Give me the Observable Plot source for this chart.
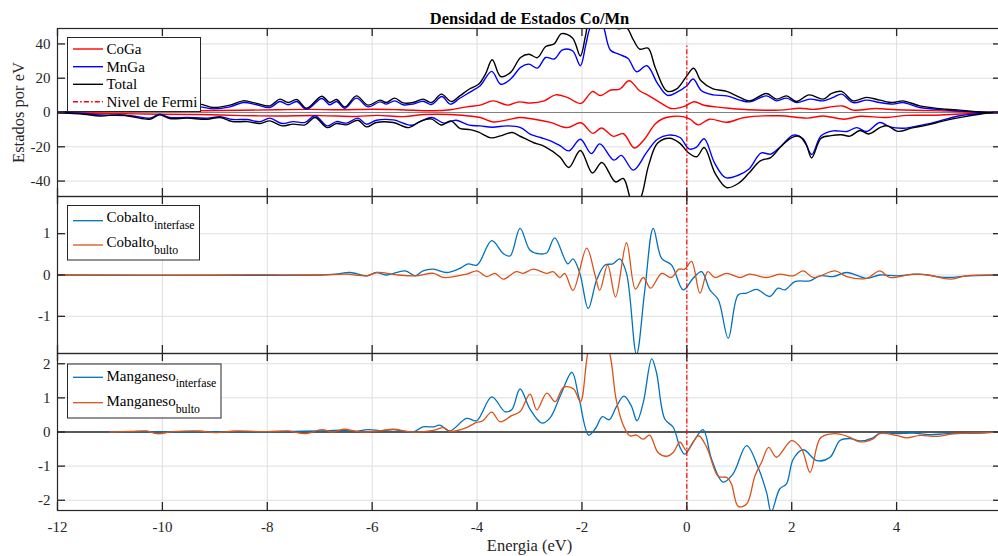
<!DOCTYPE html>
<html><head><meta charset="utf-8">
<script src="https://cdn.jsdelivr.net/npm/d3@7"></script>
<script src="https://cdn.jsdelivr.net/npm/@observablehq/plot@0.6"></script>
<style>
html,body{margin:0;padding:0;background:#fff;}
#chart{position:relative;width:998px;height:556px;overflow:hidden;background:#fff;}
#chart svg{position:absolute;left:0;font-size:15px;}
#chart svg text{font-family:'Liberation Serif','Times New Roman',serif !important;}
</style></head><body><div id="chart"></div>
<script>
// ---------- data ----------
const energyTicks = [-12,-10,-8,-6,-4,-2,0,2,4];
const dosTicks = [-40,-20,0,20,40];
const coTicks = [-1,0,1];
const mnTicks = [-2,-1,0,1,2];
const fermiLevel = [0];
const fermiTopPanel1 = 39;

const coGaUp = [[-12,0],[-11.5,0.3],[-11,0.5],[-10.5,0.6],[-10,0.7],[-9.3,1],[-8.5,1.3],[-7.8,1.6],[-7.2,1.8],[-6.6,1.6],[-6,1.9],[-5.47,1.6],[-4.83,1],[-4.51,1.6],[-4.2,3.3],[-3.94,4.3],[-3.69,6.8],[-3.42,4.3],[-3.2,6.2],[-2.98,5.5],[-2.72,6.8],[-2.5,10.3],[-2.28,8.8],[-2.02,5.3],[-1.8,12.2],[-1.65,9.9],[-1.45,13.1],[-1.28,13.6],[-1.1,18.5],[-0.9,12.7],[-0.72,9.7],[-0.51,5.8],[-0.29,2.3],[-0.05,3.6],[0.14,6.3],[0.33,4.2],[0.55,3.3],[0.8,2.5],[1.18,1.6],[1.77,1.4],[2.16,2.5],[2.41,1.8],[2.97,3.8],[3.17,1.4],[3.6,2.3],[4.0,1.6],[4.5,1.2],[5,0.8],[5.83,0],[6,0]];
const coGaDown = [[-12,0],[-11.5,-0.4],[-11,-0.7],[-10.5,-0.8],[-10,-1],[-9.3,-1.2],[-8.5,-1.8],[-7.8,-2],[-7,-1.8],[-6.3,-2.3],[-5.9,-1.7],[-5.4,-2.4],[-5,-1.2],[-4.5,-1.2],[-4.2,-1.9],[-3.94,-2.9],[-3.69,-5.5],[-3.42,-4.3],[-3.2,-2.9],[-2.91,-3.9],[-2.6,-5.8],[-2.28,-8.8],[-2.02,-6],[-1.79,-12.2],[-1.63,-9],[-1.4,-13.9],[-1.21,-12.4],[-1.0,-20.7],[-0.82,-16],[-0.6,-6.5],[-0.45,-3.5],[-0.28,-2.3],[-0.07,-2.4],[0.06,-3.9],[0.22,-7.2],[0.43,-3.9],[0.76,-5.7],[1.1,-2.9],[1.77,-1.9],[2.3,-3.3],[2.6,-2],[3.0,-3.9],[3.3,-2.2],[3.8,-2.9],[4.2,-1.7],[4.7,-1.6],[5.2,-0.9],[5.83,0],[6,0]];
const mnGaUp = [[-12,0],[-11.6,0.6],[-11.2,1.2],[-10.8,1],[-10.4,1.8],[-10,1.4],[-9.6,2.4],[-9.29,3.3],[-9.03,2.1],[-8.71,3.3],[-8.46,5.8],[-8.2,4.5],[-7.95,2.9],[-7.76,6.4],[-7.6,4.5],[-7.44,6.4],[-7.25,1.8],[-6.96,8.2],[-6.81,4.5],[-6.68,6.4],[-6.52,2.5],[-6.3,8.4],[-6.08,3.3],[-5.85,6.2],[-5.73,4.9],[-5.57,6.8],[-5.41,4.5],[-5.22,4.9],[-5.03,6.6],[-4.87,4.7],[-4.67,9.3],[-4.51,4.9],[-4.33,8.3],[-4.1,12.5],[-3.94,15.6],[-3.72,24],[-3.55,16.5],[-3.36,19.5],[-3.17,26.3],[-3.01,28.2],[-2.85,25.9],[-2.69,32.1],[-2.53,31.2],[-2.37,36.5],[-2.18,36],[-2.03,27.3],[-1.93,39],[-1.85,49],[-1.72,56],[-1.6,51],[-1.46,36.5],[-1.3,34],[-1.12,31.5],[-0.96,23.8],[-0.76,27.3],[-0.56,17],[-0.37,10],[-0.18,12],[0.0,15.6],[0.12,19.5],[0.28,12.7],[0.5,10.3],[0.76,9.7],[1.01,7.2],[1.2,6.2],[1.52,9.7],[1.71,6.8],[1.9,8.4],[2.09,5.8],[2.35,7.8],[2.6,6.8],[2.79,8.8],[2.95,10.7],[3.17,5.8],[3.43,7.2],[3.68,5.8],[3.93,4.9],[4.12,5.8],[4.44,2.9],[4.95,1.4],[5.46,0.4],[5.83,0],[6,0]];
const mnGaDown = [[-12,0],[-11.5,-0.6],[-11.19,-1.4],[-10.56,-2],[-10.24,-3.3],[-10.05,-1],[-9.86,-2.9],[-9.53,-2.9],[-9.15,-3.3],[-8.9,-2.5],[-8.66,-4.1],[-8.39,-4.1],[-8.14,-5.3],[-7.95,-3.3],[-7.72,-6.4],[-7.51,-5.3],[-7.28,-5.8],[-7.09,-1.9],[-6.86,-7.8],[-6.68,-5.3],[-6.49,-6.2],[-6.27,-3.3],[-6.11,-6.8],[-5.92,-4.5],[-5.6,-4.3],[-5.25,-7.4],[-5.06,-4.9],[-4.86,-2.9],[-4.63,-6.2],[-4.4,-4.5],[-4.15,-7.4],[-3.94,-7.8],[-3.71,-8.6],[-3.42,-7.8],[-3.17,-8.8],[-2.98,-12.7],[-2.79,-14.6],[-2.6,-16.5],[-2.41,-19.5],[-2.25,-22.4],[-2.03,-15.6],[-1.82,-24],[-1.66,-18.3],[-1.39,-27.8],[-1.25,-25],[-1.02,-33.6],[-0.77,-23.4],[-0.56,-15.6],[-0.35,-13.2],[-0.13,-14.6],[0.04,-21.2],[0.18,-20.4],[0.33,-15.3],[0.53,-29.5],[0.74,-38],[0.98,-36.6],[1.18,-33.1],[1.42,-23.6],[1.6,-24.3],[1.8,-19.5],[2.03,-13.2],[2.22,-15.5],[2.38,-24.5],[2.56,-13.6],[2.79,-10.7],[3.05,-11.1],[3.24,-8.8],[3.43,-11.1],[3.68,-5.8],[3.87,-8.4],[4.12,-9.2],[4.31,-8.4],[4.57,-6.8],[4.82,-4.9],[5.2,-1.9],[5.58,-0.6],[5.83,0],[6,0]];
const totalUp = [[-12,0],[-11.6,0.8],[-11.2,1.5],[-10.8,1.2],[-10.4,2.2],[-10,1.8],[-9.6,3],[-9.29,4.9],[-9.03,2.9],[-8.71,4.3],[-8.46,6.8],[-8.2,5.3],[-7.95,3.9],[-7.76,7.8],[-7.6,5.8],[-7.44,7.6],[-7.25,2.5],[-6.96,9.5],[-6.81,5.8],[-6.68,7.6],[-6.52,3.3],[-6.3,9.7],[-6.08,4.3],[-5.85,7.2],[-5.73,5.8],[-5.57,8.4],[-5.41,5.6],[-5.22,5.8],[-5.03,7.8],[-4.87,5.8],[-4.68,10.7],[-4.49,6.4],[-4.33,9.7],[-4.13,14],[-3.97,16.5],[-3.84,22.4],[-3.71,30.8],[-3.55,21],[-3.36,23.4],[-3.17,32.1],[-3.01,34],[-2.85,32],[-2.69,38.5],[-2.53,40],[-2.39,46],[-2.18,43.5],[-2.03,33],[-1.93,45],[-1.85,55],[-1.6,58],[-1.42,51],[-1.3,48.8],[-1.15,49.5],[-1.03,43],[-0.9,37],[-0.74,37.5],[-0.6,26],[-0.38,12.5],[-0.2,13.6],[-0.02,20.5],[0.13,25.8],[0.27,18.5],[0.5,13.8],[0.76,12.3],[1.01,8.8],[1.2,6.8],[1.52,11.1],[1.71,7.8],[1.9,9.7],[2.09,6.4],[2.33,10.3],[2.6,7.8],[2.76,11.1],[2.95,12.3],[3.17,6.8],[3.43,8.8],[3.68,7.2],[3.93,5.8],[4.12,6.8],[4.44,3.9],[4.95,1.9],[5.2,1.4],[5.46,0.6],[5.83,0],[6,0]];
const totalDown = [[-12,0],[-11.5,-1],[-11.19,-2],[-10.81,-1.4],[-10.56,-2.5],[-10.24,-3.9],[-10.05,-1.4],[-9.86,-3.5],[-9.53,-3.3],[-9.15,-3.9],[-8.9,-2.9],[-8.66,-5.3],[-8.39,-5.3],[-8.14,-6.4],[-7.95,-4.9],[-7.72,-7.8],[-7.51,-6.8],[-7.28,-7.2],[-7.09,-2.9],[-6.86,-8.8],[-6.68,-6.4],[-6.49,-7.2],[-6.27,-4.5],[-6.11,-8.4],[-5.92,-5.8],[-5.6,-5.8],[-5.3,-8.8],[-5.1,-5.5],[-4.88,-3.7],[-4.68,-7.3],[-4.5,-4.9],[-4.33,-9.2],[-4.13,-10],[-3.97,-11.5],[-3.73,-14.8],[-3.55,-13.6],[-3.33,-11.7],[-3.17,-14],[-2.93,-17.5],[-2.7,-20],[-2.42,-26],[-2.25,-32.1],[-2.03,-22.2],[-1.8,-35.3],[-1.62,-29.2],[-1.36,-40.5],[-1.21,-38.5],[-1.03,-53],[-0.9,-51],[-0.73,-31],[-0.56,-18],[-0.33,-15],[-0.13,-18],[0.02,-23.2],[0.19,-25.8],[0.33,-20.4],[0.54,-35.5],[0.76,-43.8],[0.98,-41.4],[1.18,-35.5],[1.4,-28.2],[1.6,-26.3],[1.79,-20],[2.0,-14.6],[2.15,-14],[2.28,-19],[2.38,-26.5],[2.56,-15],[2.75,-13.5],[2.95,-13],[3.11,-13.8],[3.3,-10.5],[3.47,-12.5],[3.7,-8.5],[3.83,-7.8],[4.02,-11],[4.3,-9],[4.6,-7.2],[4.88,-5],[5.25,-2.7],[5.58,-1],[5.83,0],[6,0]];

const coInterfase = [[-12,0],[-7,0],[-6.7,0.02],[-6.42,0.06],[-6.1,-0.02],[-5.92,0.06],[-5.73,0],[-5.37,0.1],[-5.18,-0.02],[-5.03,0.1],[-4.83,0.14],[-4.58,0.06],[-4.33,0.16],[-4.17,0.27],[-4.0,0.24],[-3.72,0.83],[-3.5,0.52],[-3.37,0.46],[-3.18,1.13],[-2.99,0.6],[-2.8,0.51],[-2.67,0.54],[-2.52,0.9],[-2.27,0.27],[-2.17,0.39],[-2.04,0.04],[-1.88,-0.81],[-1.72,-0.12],[-1.56,0.24],[-1.41,0.27],[-1.28,0.39],[-1.15,0.04],[-0.96,-1.92],[-0.8,-0.35],[-0.64,1.13],[-0.48,0.4],[-0.29,0.24],[-0.07,-0.36],[0.12,-0.08],[0.28,0.08],[0.44,-0.36],[0.6,-0.6],[0.79,-1.53],[0.98,-0.48],[1.14,-0.44],[1.33,-0.35],[1.58,-0.52],[1.74,-0.32],[1.87,-0.36],[2.06,-0.16],[2.35,-0.14],[2.54,-0.02],[2.79,-0.04],[3.05,0.06],[3.43,-0.08],[3.68,0],[4.0,-0.02],[4.44,0.02],[4.95,-0.06],[5.39,-0.02],[6,0]];
const coBulto = [[-12,0],[-9,0],[-8,0.01],[-7,0],[-6.5,0.02],[-6.1,-0.02],[-5.92,0.06],[-5.5,0],[-5.18,-0.02],[-4.83,0.04],[-4.64,-0.06],[-4.2,0.02],[-4.0,0.1],[-3.82,-0.04],[-3.66,0.04],[-3.5,-0.1],[-3.25,0.08],[-3.12,0.04],[-2.93,0.14],[-2.67,0.04],[-2.55,0.08],[-2.42,-0.06],[-2.33,0.04],[-2.17,-0.37],[-1.91,0.65],[-1.75,0],[-1.66,-0.37],[-1.51,0.24],[-1.36,-0.53],[-1.15,0.78],[-0.98,-0.34],[-0.83,-0.06],[-0.69,-0.32],[-0.48,0.04],[-0.3,-0.06],[-0.15,0.14],[-0.04,0.14],[0.09,0.33],[0.25,-0.44],[0.4,0.08],[0.53,-0.06],[0.76,0.04],[1.01,-0.06],[1.2,0.02],[1.52,-0.06],[1.77,0.02],[2.03,-0.02],[2.22,0.1],[2.41,-0.06],[2.83,0.1],[3.05,-0.04],[3.43,-0.08],[3.68,0.1],[3.87,-0.06],[4.31,0.02],[4.6,0],[5.02,-0.1],[5.33,-0.02],[6,0]];
const mnInterfase = [[-11,0],[-10.5,0.01],[-10,0],[-9,0.01],[-8,0],[-7.5,0.02],[-7,0.03],[-6.54,0.05],[-6.3,0.02],[-6.08,0.07],[-5.8,0.04],[-5.6,0.07],[-5.22,0],[-5.03,0.15],[-4.83,0.15],[-4.71,0.2],[-4.52,0.03],[-4.2,0.4],[-4.01,0.33],[-3.72,1.03],[-3.47,0.6],[-3.34,0.65],[-3.18,1.26],[-2.99,0.67],[-2.76,0.26],[-2.6,0.43],[-2.41,1.07],[-2.19,1.75],[-2.06,1.02],[-1.87,-0.09],[-1.74,0.11],[-1.61,0.45],[-1.48,0.36],[-1.35,0.72],[-1.2,1.05],[-1.06,0.77],[-0.95,0.33],[-0.83,0.87],[-0.67,2.14],[-0.58,1.75],[-0.42,0.38],[-0.26,0.14],[-0.13,-0.45],[-0.04,-0.65],[0.12,-0.3],[0.31,0.07],[0.47,-0.79],[0.69,-1.47],[0.88,-1.23],[1.14,-0.4],[1.36,-1.04],[1.52,-1.77],[1.61,-2.34],[1.77,-1.67],[1.9,-1.52],[2.03,-0.79],[2.22,-0.52],[2.48,-0.84],[2.73,-0.74],[2.92,-0.25],[3.11,-0.19],[3.3,-0.26],[3.55,-0.17],[3.68,-0.03],[4.0,-0.05],[4.31,-0.03],[4.63,-0.08],[4.95,-0.05],[5.58,-0.03],[6,0]];
const mnBulto = [[-11,0],[-10.6,0.02],[-10.3,0.03],[-10.1,-0.05],[-9.8,0.01],[-9.3,0.03],[-9,-0.02],[-8.6,0.03],[-8,0.01],[-7.6,0.03],[-7.28,-0.05],[-6.96,0.07],[-6.75,0],[-6.54,0.08],[-6.3,0.02],[-6.1,0],[-5.8,0.05],[-5.6,0.08],[-5.22,0],[-4.83,0.05],[-4.64,0.13],[-4.52,0.02],[-4.2,0.13],[-4.01,0.28],[-3.89,0.33],[-3.72,0.58],[-3.56,0.3],[-3.34,0.48],[-3.18,0.6],[-2.99,1.11],[-2.86,0.65],[-2.67,1.14],[-2.51,0.89],[-2.35,1.31],[-2.16,1.26],[-2.03,0.89],[-1.88,2.4],[-1.7,3.3],[-1.47,2.3],[-1.35,0.97],[-1.22,0.23],[-1.09,-0.11],[-0.96,-0.09],[-0.83,-0.21],[-0.71,-0.09],[-0.55,-0.6],[-0.39,-0.71],[-0.26,-0.6],[-0.13,-0.3],[0.0,-0.55],[0.22,-0.11],[0.38,-0.45],[0.6,-1.3],[0.76,-1.33],[0.85,-1.52],[0.98,-2.18],[1.14,-2.11],[1.3,-1.28],[1.43,-0.87],[1.56,-0.45],[1.71,-0.74],[2.0,-0.25],[2.19,-0.5],[2.35,-1.18],[2.54,-0.19],[2.73,-0.06],[2.92,-0.06],[3.11,-0.16],[3.3,-0.29],[3.55,-0.2],[3.68,-0.05],[4.0,-0.1],[4.19,-0.17],[4.45,-0.1],[4.76,-0.13],[5.1,-0.05],[5.58,-0.03],[6,0]];

// ---------- layout / style ----------
const W = 1001, ML = 57;
const gridColor = "#dfdfdf", axisColor = "#262626";
const baseStyle = "font-family:'Liberation Serif','Times New Roman',serif;font-size:15px;color:#262626;background:transparent;overflow:visible;max-width:none;";
const fermiDash = "5,2.2,1.5,2.2";

function gridMarks(yTicks) {
  return [
    Plot.ruleX(energyTicks, {x: d => d, stroke: gridColor, strokeWidth: 1}),
    Plot.ruleY(yTicks, {y: d => d, stroke: gridColor, strokeWidth: 1})
  ];
}
function boxMarks(yTicks, plotH) {
  const plotW = W - ML;
  const t = {stroke: axisColor, strokeWidth: 1.3};
  return [
    Plot.ruleX(energyTicks, {x: d => d, insetTop: plotH - 8, ...t}),
    Plot.ruleX(energyTicks, {x: d => d, insetBottom: plotH - 8, ...t}),
    Plot.ruleY(yTicks, {y: d => d, insetRight: plotW - 8, ...t}),
    Plot.ruleY(yTicks, {y: d => d, insetLeft: plotW - 8, ...t}),
    Plot.frame({stroke: axisColor, strokeWidth: 1.2})
  ];
}
const curve = "catmull-rom";
const lineOpts = (stroke, w) => ({stroke, strokeWidth: w, curve, clip: true});
const yTickLabels = (ticks) => Plot.text(ticks, {y: d => d, text: d => String(d), frameAnchor: "left", dx: -7, textAnchor: "end", lineAnchor: "middle", fontSize: 15, fill: axisColor});

// ---------- panel 1 ----------
const p1H = 196, p1Top = 28;
const panel1 = Plot.plot({
  width: W, height: p1H, marginLeft: ML, marginRight: 0, marginTop: p1Top, marginBottom: 0,
  style: baseStyle,
  x: {domain: [-12, 6], axis: null},
  y: {domain: [-49, 49], axis: null},
  marks: [
    ...gridMarks(dosTicks),
    Plot.ruleY([0], {stroke: "#808080", strokeWidth: 1}),
    Plot.line(coGaUp, lineOpts("#ff0000", 1.4)),
    Plot.line(coGaDown, lineOpts("#ff0000", 1.4)),
    Plot.line(mnGaUp, lineOpts("#0000ff", 1.4)),
    Plot.line(mnGaDown, lineOpts("#0000ff", 1.4)),
    Plot.line(totalUp, lineOpts("#000000", 1.4)),
    Plot.line(totalDown, lineOpts("#000000", 1.4)),
    Plot.ruleX(fermiLevel, {x: d => d, y1: -49, y2: fermiTopPanel1, stroke: "#ff0000", strokeWidth: 1.2, strokeDasharray: fermiDash}),
    ...boxMarks(dosTicks, p1H - p1Top),
    yTickLabels(dosTicks),
    Plot.text(["Densidad de Estados Co/Mn"], {text: d => d, frameAnchor: "top", dy: -4.5, textAnchor: "middle", lineAnchor: "bottom", fontWeight: "bold", fontSize: 16.5, fill: "#000"}),
    Plot.text(["Estados por eV"], {text: d => d, frameAnchor: "left", dx: -34, rotate: -90, textAnchor: "middle", lineAnchor: "bottom", fontSize: 16.5, fill: axisColor})
  ]
});

// ---------- panel 2 ----------
const p2H = 157;
const panel2 = Plot.plot({
  width: W, height: p2H, marginLeft: ML, marginRight: 0, marginTop: 0, marginBottom: 0,
  style: baseStyle,
  x: {domain: [-12, 6], axis: null},
  y: {domain: [-1.9, 1.9], axis: null},
  marks: [
    ...gridMarks(coTicks),
    Plot.line(coInterfase, lineOpts("#0072bd", 1.3)),
    Plot.line(coBulto, lineOpts("#d95319", 1.3)),
    Plot.ruleX(fermiLevel, {x: d => d, stroke: "#ff0000", strokeWidth: 1.2, strokeDasharray: fermiDash}),
    ...boxMarks(coTicks, p2H),
    yTickLabels(coTicks)
  ]
});

// ---------- panel 3 ----------
const p3H = 203, p3Bottom = 46;
const panel3 = Plot.plot({
  width: W, height: p3H, marginLeft: ML, marginRight: 0, marginTop: 0, marginBottom: p3Bottom,
  style: baseStyle,
  x: {domain: [-12, 6], axis: null},
  y: {domain: [-2.3, 2.3], axis: null},
  marks: [
    ...gridMarks(mnTicks),
    Plot.ruleY([0], {stroke: "#262626", strokeWidth: 1.6}),
    Plot.line(mnInterfase, lineOpts("#0072bd", 1.3)),
    Plot.line(mnBulto, lineOpts("#d95319", 1.3)),
    Plot.ruleX(fermiLevel, {x: d => d, stroke: "#ff0000", strokeWidth: 1.2, strokeDasharray: fermiDash}),
    ...boxMarks(mnTicks, p3H - p3Bottom),
    yTickLabels(mnTicks),
    Plot.text(energyTicks, {x: d => d, text: d => String(d), frameAnchor: "bottom", dy: 21.5, textAnchor: "middle", lineAnchor: "bottom", fontSize: 15, fill: axisColor}),
    Plot.text(["Energia (eV)"], {text: d => d, frameAnchor: "bottom", dy: 40.5, textAnchor: "middle", lineAnchor: "bottom", fontSize: 16.5, fill: axisColor})
  ]
});

const chart = document.getElementById("chart");
panel1.style.top = "0px";
panel2.style.top = "196px";
panel3.style.top = "353px";
chart.append(panel1, panel2, panel3);

// ---------- legends ----------
const legend1 = [
  {label: "CoGa", color: "#ff0000", dash: null},
  {label: "MnGa", color: "#0000ff", dash: null},
  {label: "Total", color: "#000000", dash: null},
  {label: "Nivel de Fermi", color: "#ff0000", dash: fermiDash}
];
const legend2 = [
  {label: "Cobalto", sub: "interfase", color: "#0072bd"},
  {label: "Cobalto", sub: "bulto", color: "#d95319"}
];
const legend3 = [
  {label: "Manganeso", sub: "interfase", color: "#0072bd"},
  {label: "Manganeso", sub: "bulto", color: "#d95319"}
];
function legendSVG(box, rows, lineYs, baseYs, subDy, lw) {
  let s = `<rect x="${box[0]}" y="${box[1]}" width="${box[2]}" height="${box[3]}" fill="#fff" stroke="#262626" stroke-width="1"/>`;
  rows.forEach((r, i) => {
    s += `<line x1="73" x2="103" y1="${lineYs[i]}" y2="${lineYs[i]}" stroke="${r.color}" stroke-width="${lw}"${r.dash ? ` stroke-dasharray="${r.dash}"` : ""}/>`;
    s += `<text x="106.5" y="${baseYs[i]}" font-size="15" fill="#000">${r.label}${r.sub ? `<tspan font-size="11.8" dy="${subDy}">${r.sub}</tspan>` : ""}</text>`;
  });
  return s;
}
const overlay = `<svg width="998" height="556" style="top:0;left:0;pointer-events:none;" xmlns="http://www.w3.org/2000/svg">
${legendSVG([67.5, 37.5, 133, 74], legend1, [49, 66.7, 84.3, 101.7], [54, 71.7, 89.3, 107], 0, 1.4)}
${legendSVG([67.5, 205.5, 132, 54.5], legend2, [220.7, 245], [222.3, 247.3], 6.5, 1.3)}
${legendSVG([67.5, 364, 153.5, 54], legend3, [377.3, 402.7], [380.7, 406], 6.6, 1.3)}
</svg>`;
chart.insertAdjacentHTML("beforeend", overlay);
</script>
</body></html>
